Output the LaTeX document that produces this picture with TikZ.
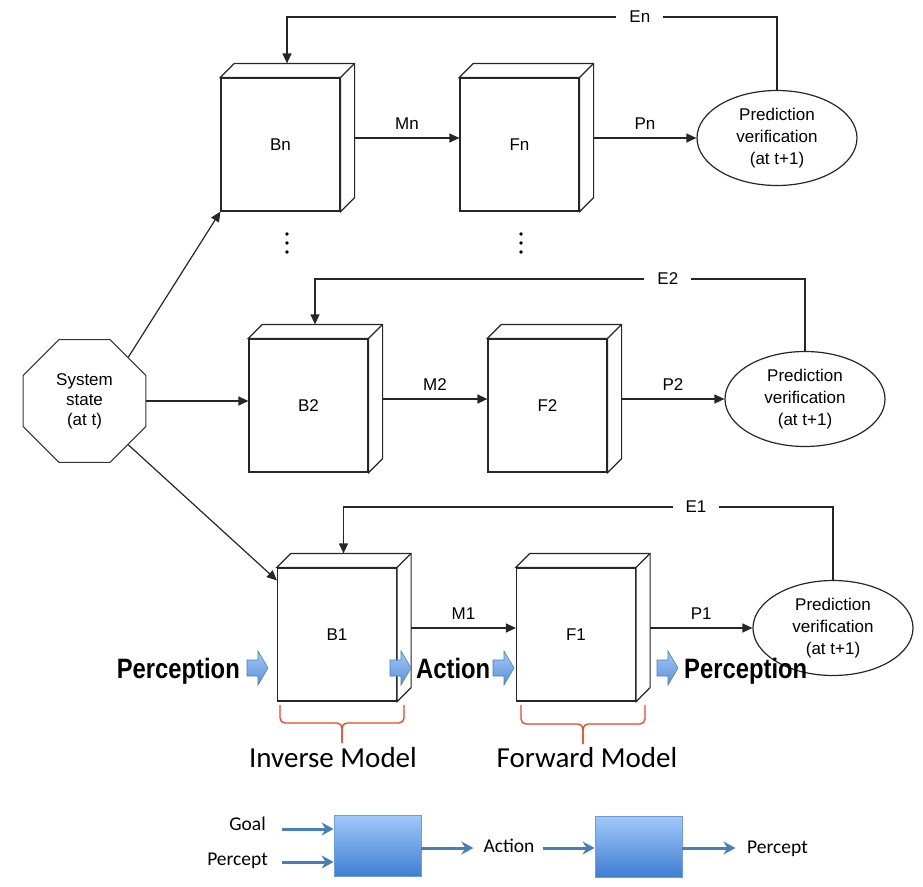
\documentclass[tikz,border=0pt]{standalone}
\usepackage{fontspec}
\setmainfont{Liberation Sans}
\newfontfamily\calfont{Carlito}
\newfontfamily\condbold[FakeStretch=0.85]{Liberation Sans}
\usetikzlibrary{calc,shapes.geometric,arrows.meta}

% side and top faces of a box whose front face is node #1
\newcommand\cubeside[1]{%
  \draw[line, fill=white] (#1.north west) -- ++(14,-14)
    -- ($(#1.north east)+(14,-14)$) -- ($(#1.south east)+(14,-14)$)
    -- (#1.south east) -- (#1.north east) -- cycle;
  \draw[line] (#1.north east) -- ++(14,-14);}

\definecolor{bracered}{HTML}{F0401F}
\definecolor{officeblue}{HTML}{4A7EBB}
\definecolor{boxtop}{HTML}{A2C8FA}
\definecolor{boxbot}{HTML}{3F7ED2}
\definecolor{boxedge}{HTML}{6F9CD3}

\begin{document}
\begin{tikzpicture}[x=1pt,y=-1pt,
  line/.style={draw=black!85, line width=1.2pt},
  arr/.style={line, -{Triangle[length=10pt,width=9pt]}},
  front/.style={draw=black!85, line width=1.2pt, fill=white,
    minimum width=119pt, minimum height=133pt, inner sep=0pt,
    font=\fontsize{17}{20}\selectfont},
  verif/.style={ellipse, draw=black!85, line width=1.2pt, fill=white,
    minimum width=160pt, minimum height=95pt, inner sep=0pt, align=center,
    font=\fontsize{17}{21.7}\selectfont},
  lbl/.style={font=\fontsize{17}{20}\selectfont, inner sep=0pt},
  elbl/.style={font=\fontsize{17}{20}\selectfont, fill=white,
    inner xsep=13pt, inner ysep=3pt},
  bigbold/.style={font=\condbold\bfseries\fontsize{28}{30}\selectfont, inner sep=0pt},
  modeltxt/.style={font=\calfont\fontsize{29}{32}\selectfont, inner sep=0pt},
  smalltxt/.style={font=\calfont\fontsize{19.5}{22}\selectfont, inner sep=0pt},
  bracepath/.style={draw=bracered, line width=1.3pt, rounded corners=5pt},
  bbox/.style={draw=boxedge, line width=0.8pt, top color=boxtop, bottom color=boxbot,
    minimum width=87pt, minimum height=61pt, inner sep=0pt},
  barrow/.style={draw=officeblue, line width=3pt,
    -{Stealth[length=12pt,width=13pt,inset=4pt]}},
  blockarrow/.pic={
    \draw[draw=officeblue, line width=0.6pt, top color=boxtop, bottom color=boxbot!85]
      (0,-8) -- (11,-8) -- (11,-17) -- (21,0) -- (11,17) -- (11,8) -- (0,8) -- cycle;}
]
\useasboundingbox (0,0) rectangle (923,886);

% system state
\node[regular polygon, regular polygon sides=8, draw=black!80, line width=1pt,
  minimum size=133pt, inner sep=0pt, align=center,
  font=\fontsize{17}{20}\selectfont] (sys) at (84.5,401) {System\\state\\(at t)};

% the three model chains
\node[front] (Bn) at (280.5,144.5) {Bn};
\node[front] (Fn) at (519.5,144.5) {Fn};
\node[front] (B2) at (308.5,405.5) {B2};
\node[front] (F2) at (547.5,405.5) {F2};
\node[front] (B1) at (337,634.5) {B1};
\node[front] (F1) at (576,634.5) {F1};
\foreach \b in {Bn,Fn,B2,F2,B1,F1} {\cubeside{\b}}

\node[verif] (Vn) at (777,138) {Prediction\\verification\\(at t+1)};
\node[verif] (V2) at (805,399) {Prediction\\verification\\(at t+1)};
\node[verif] (V1) at (833,628) {Prediction\\verification\\(at t+1)};

% motor commands and predictions
\draw[arr] ($(Bn.east)+(14,-6.5)$) -- node[lbl, above=8pt]{Mn} ($(Fn.west)+(0,-6.5)$);
\draw[arr] ($(Fn.east)+(14,-6.5)$) -- node[lbl, above=8pt]{Pn} (Vn.west);
\draw[arr] ($(B2.east)+(14,-6.5)$) -- node[lbl, above=8pt]{M2} ($(F2.west)+(0,-6.5)$);
\draw[arr] ($(F2.east)+(14,-6.5)$) -- node[lbl, above=8pt]{P2} (V2.west);
\draw[arr] ($(B1.east)+(14,-6.5)$) -- node[lbl, above=8pt]{M1} ($(F1.west)+(0,-6.5)$);
\draw[arr] ($(F1.east)+(14,-6.5)$) -- node[lbl, above=8pt]{P1} (V1.west);

% error feedback
\draw[arr] (Vn.north) -- ++(0,-73) -| node[elbl, pos=0.14]{En} ($(Bn.north)+(6.5,-14)$);
\draw[arr] (V2.north) -- ++(0,-72) -| node[elbl, pos=0.14]{E2} ($(B2.north)+(6.5,-14)$);
\draw[arr] (V1.north) -- ++(0,-73) -| node[elbl, pos=0.14]{E1} ($(B1.north)+(6.5,-14)$);

% state to inverse models
\draw[arr] (sys.45) -- (Bn.south west);
\draw[arr] (sys.east) -- (sys.east -| B2.west);
\draw[arr] (sys.-45) -- ($(B1.north west)+(0,13)$);

% omitted chains
\foreach \x in {287,521} \foreach \y in {234,243,252} \fill (\x,\y) circle (1.8pt);

% perception / action flow
\pic at (247,668) {blockarrow};
\pic at (390,668) {blockarrow};
\pic at (493,668) {blockarrow};
\pic at (657,668) {blockarrow};
\node[bigbold, anchor=base east] at (240,678) {Perception};
\node[bigbold, anchor=base west] at (416,678) {Action};
\node[bigbold, anchor=base west] at (684,678) {Perception};

% braces
\draw[bracepath] (280,705) -- (280,723) -- (342,723) -- (342,743);
\draw[bracepath] (404,705) -- (404,723) -- (342,723) -- (342,743);
\draw[bracepath] (521,705) -- (521,724) -- (583,724) -- (583,744);
\draw[bracepath] (645,705) -- (645,724) -- (583,724) -- (583,744);
\node[modeltxt, anchor=base] at (333,767) {Inverse Model};
\node[modeltxt, anchor=base] at (587,767) {Forward Model};

% simplified scheme
\node[bbox] (box1) at (377.5,845.5) {};
\node[bbox] (box2) at (638.5,846.5) {};
\node[smalltxt, anchor=base east] (goal) at (266,830) {Goal};
\node[smalltxt, anchor=base east] (pct) at (268,865) {Percept};
\node[smalltxt] (act) at (509,845.5) {Action};
\node[smalltxt, anchor=base] (pct2) at (777.5,853) {Percept};
\draw[barrow] ($(goal.base east)+(16,-1)$) -- ($(box1.west)+(0,-16.5)$);
\draw[barrow] ($(pct.base east)+(14,-3)$) -- ($(box1.west)+(0,16.5)$);
\draw[barrow] ($(box1.east)+(0,2.5)$) -- ++(52,0);
\draw[barrow] ($(box2.west)+(-52,1.5)$) -- ($(box2.west)+(0,1.5)$);
\draw[barrow] ($(box2.east)+(0,1.5)$) -- ++(53,0);
\end{tikzpicture}
\end{document}
